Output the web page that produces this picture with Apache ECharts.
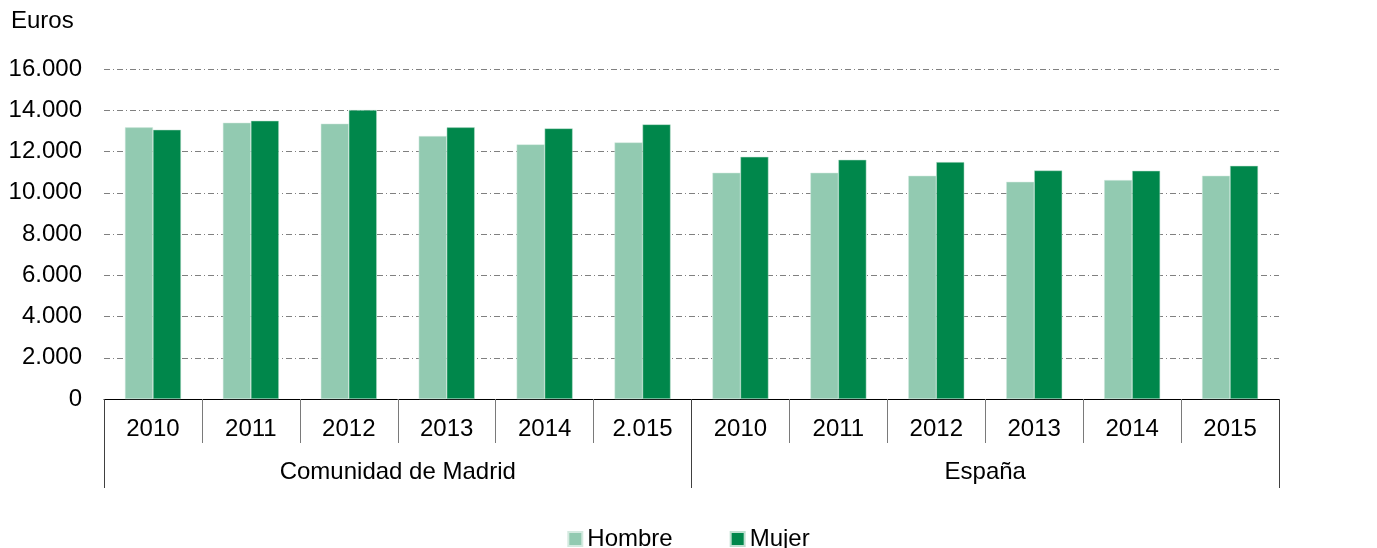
<!DOCTYPE html>
<html>
<head>
<meta charset="utf-8">
<script src="https://cdn.jsdelivr.net/npm/echarts@6/dist/echarts.min.js"></script>
<style>
  html, body { margin: 0; padding: 0; background: #fff; }
  #myBar { width: 1377px; height: 548px; }
</style>
</head>
<body>
<div id="myBar"></div>
<script>
// categorías (años) y grupos
const years = ["2010", "2011", "2012", "2013", "2014", "2.015",
               "2010", "2011", "2012", "2013", "2014", "2015"];
const groups = ["Comunidad de Madrid", "España"];
// valores (euros)
const hombre = [13170, 13395, 13350, 12750, 12345, 12440,
                10970, 10970, 10825, 10530, 10615, 10825];
const mujer = [13055, 13490, 14010, 13170, 13120, 13315,
               11740, 11600, 11485, 11080, 11065, 11305];
const yTicks = [0, 2000, 4000, 6000, 8000, 10000, 12000, 14000, 16000];

const font = "Liberation Sans, Arial, sans-serif";
const fs = 24; // tamaño de letra

function fmt(v) {
  return String(v).replace(/\B(?=(\d{3})+(?!\d))/g, ".");
}

let myBar = echarts.init(document.querySelector("#myBar"));
let option = {
  backgroundColor: "#FFF",
  animation: false,
  textStyle: { fontFamily: font },
  title: {
    text: "Euros",
    left: 11,
    top: 9,
    padding: 0,
    textStyle: { fontSize: fs, fontWeight: "normal", color: "#000", fontFamily: font }
  },
  grid: { left: 104, right: 98, top: 69, bottom: 149 },
  legend: {
    data: ["Hombre", "Mujer"],
    left: "center",
    top: 527,
    padding: 0,
    icon: "rect",
    itemWidth: 14,
    itemHeight: 14,
    itemGap: 57,
    textStyle: { fontSize: fs, color: "#000", fontFamily: font }
  },
  xAxis: [
    {
      type: "category",
      data: years,
      axisLine: { lineStyle: { color: "#000", width: 1 } },
      axisTick: { show: true, interval: 0, length: 44, lineStyle: { color: "#7a7a7a" } },
      axisLabel: { interval: 0, margin: 18, fontSize: fs, color: "#000", fontFamily: font }
    },
    {
      type: "category",
      data: groups,
      position: "bottom",
      axisLine: { show: false },
      axisTick: { show: true, interval: 0, length: 89, lineStyle: { color: "#404040" } },
      axisLabel: { interval: 0, margin: 61, fontSize: fs, color: "#000", fontFamily: font }
    }
  ],
  yAxis: {
    type: "value",
    min: 0,
    max: 16000,
    interval: 2000,
    axisLine: { show: false },
    axisTick: { show: false },
    splitLine: {
      show: true,
      lineStyle: { color: "#808080", width: 1, type: [6, 3, 1, 3] }
    },
    axisLabel: {
      margin: 22,
      fontSize: fs,
      color: "#000",
      fontFamily: font,
      formatter: function (v) { return yTicks.indexOf(v) >= 0 ? fmt(v) : ""; }
    }
  },
  series: [
    {
      name: "Hombre",
      type: "bar",
      xAxisIndex: 0,
      barWidth: 28,
      barGap: "0%",
      itemStyle: { color: "#92CAB1", borderColor: "#D4EAE0", borderWidth: 0.5 },
      data: hombre
    },
    {
      name: "Mujer",
      type: "bar",
      xAxisIndex: 0,
      barWidth: 28,
      barGap: "0%",
      itemStyle: { color: "#00874B", borderColor: "#BFE0D0", borderWidth: 0.5 },
      data: mujer
    }
  ]
};
myBar.setOption(option);
</script>
</body>
</html>
